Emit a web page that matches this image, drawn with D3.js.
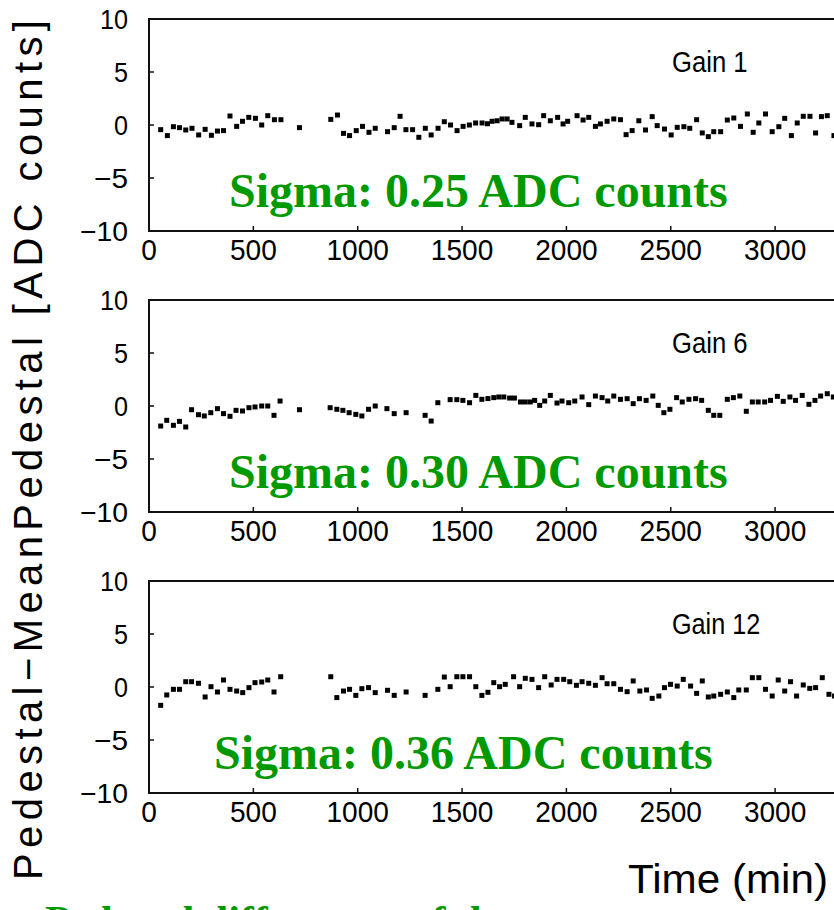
<!DOCTYPE html>
<html>
<head>
<meta charset="utf-8">
<script src="https://cdn.jsdelivr.net/npm/d3@7"></script>
<style>
  body { margin: 0; background: #fff; }
  svg { display: block; font-family: "Liberation Sans", Arial, sans-serif; }
  .serif { font-family: "Liberation Serif", "Times New Roman", serif; font-weight: bold; }
</style>
</head>
<body>
<div id="chart"></div>
<script>
// pedestal stability vs time for three gains

const gainLabels = ["Gain 1", "Gain 6", "Gain 12"];
const sigmaLabels = ["Sigma: 0.25 ADC counts", "Sigma: 0.30 ADC counts", "Sigma: 0.36 ADC counts"];
const xTicks = [0, 500, 1000, 1500, 2000, 2500, 3000];
const yTicks = [-10, -5, 0, 5, 10];

const gain1Time = [56, 88, 117, 146, 176, 206, 238, 269, 299, 328, 357, 388, 420, 448, 478, 510, 540, 569, 601, 632,
  721, 871, 903, 932, 961, 993, 1023, 1054, 1084, 1143, 1175, 1203, 1231, 1263, 1293, 1324, 1352, 1385, 1415, 1445,
  1476, 1505, 1535, 1565, 1596, 1622, 1644, 1668, 1692, 1716, 1739, 1776, 1803, 1835, 1867, 1891, 1923, 1958, 1984,
  2006, 2051, 2080, 2107, 2139, 2163, 2195, 2227, 2259, 2286, 2315, 2347, 2379, 2411, 2435, 2470, 2502, 2531, 2563,
  2591, 2624, 2651, 2680, 2706, 2739, 2771, 2802, 2834, 2867, 2895, 2922, 2954, 2986, 3018, 3046, 3078, 3106, 3135,
  3167, 3194, 3222, 3250, 3282];
const gain1Value = [-0.44, -1.0, -0.16, -0.25, -0.47, -0.31, -0.94, -0.41, -0.97, -0.57, -0.53, 0.85, -0.13, 0.35, 0.72,
  0.63, 0.0, 0.88, 0.5, 0.5, -0.25, 0.53, 0.94, -0.79, -1.0, -0.53, -0.13, -0.69, -0.31, -0.63, -0.25, 0.82, -0.44,
  -0.44, -1.16, -0.31, -0.94, -0.31, 0.31, 0.0, -0.53, -0.13, 0.0, 0.19, 0.19, 0.12, 0.35, 0.4, 0.57, 0.57, 0.25, -0.06,
  0.72, 0.1, 0.03, 0.88, 0.4, 0.72, 0.1, 0.35, 0.88, 0.47, 0.72, -0.13, 0.1, 0.35, 0.57, 0.5, -0.91, -0.53, 0.4, -0.47,
  0.79, -0.06, -0.38, -0.94, -0.22, -0.16, -0.31, 0.5, -0.75, -1.1, -0.63, -0.63, 0.47, 0.66, -0.13, 1.04, -0.69, 0.19,
  1.04, -0.63, -0.16, 0.63, -1.0, 0.19, 0.82, 0.82, -0.75, 0.79, 0.88, -1.0];

const gain6Time = [56, 85, 117, 146, 176, 204, 237, 265, 296, 328, 357, 388, 417, 448, 479, 508, 540, 569, 599, 628,
  721, 868, 900, 929, 959, 991, 1020, 1052, 1084, 1140, 1175, 1232, 1323, 1352, 1384, 1443, 1475, 1504, 1536, 1566,
  1595, 1624, 1652, 1676, 1700, 1728, 1751, 1780, 1803, 1827, 1848, 1872, 1896, 1923, 1955, 1979, 2011, 2040, 2075,
  2107, 2139, 2171, 2198, 2227, 2259, 2291, 2320, 2350, 2382, 2414, 2440, 2467, 2496, 2528, 2555, 2587, 2619, 2648,
  2680, 2706, 2735, 2771, 2800, 2831, 2862, 2891, 2919, 2950, 2978, 3011, 3039, 3071, 3098, 3130, 3162, 3191, 3218,
  3250, 3279];
const gain6Value = [-1.89, -1.35, -1.82, -1.45, -1.98, -0.35, -0.82, -0.94, -0.63, -0.25, -0.72, -0.97, -0.41, -0.47,
  -0.16, -0.09, 0.0, 0.0, -0.88, 0.47, -0.35, -0.16, -0.31, -0.41, -0.63, -0.79, -0.94, -0.31, 0.0, -0.25, -0.72, -0.63,
  -0.88, -1.42, 0.31, 0.6, 0.6, 0.53, 0.31, 1.0, 0.63, 0.7, 0.79, 0.85, 0.85, 0.75, 0.75, 0.38, 0.38, 0.38, 0.53, 0.06,
  0.47, 1.0, 0.28, 0.47, 0.31, 0.47, 0.85, 0.13, 0.94, 0.79, 0.47, 0.94, 0.63, 0.69, 0.22, 0.69, 0.53, 0.94, 0.06,
  -0.63, -0.31, 0.79, 0.38, 0.63, 0.69, 0.53, -0.41, -0.88, -0.88, 0.63, 0.79, 0.94, -0.5, 0.38, 0.38, 0.38, 0.53,
  0.91, 0.44, 0.85, 0.53, 1.0, 0.16, 0.53, 0.94, 1.16, 0.85];

const gain12Time = [56, 85, 117, 146, 176, 204, 237, 269, 297, 328, 357, 388, 420, 449, 479, 508, 540, 569, 599, 631,
  871, 900, 932, 961, 991, 1020, 1052, 1084, 1143, 1175, 1232, 1323, 1384, 1415, 1443, 1475, 1504, 1536, 1566, 1595,
  1624, 1652, 1680, 1707, 1747, 1776, 1803, 1835, 1867, 1896, 1927, 1955, 1987, 2016, 2048, 2075, 2107, 2139, 2171,
  2195, 2227, 2259, 2291, 2320, 2352, 2384, 2411, 2443, 2470, 2499, 2531, 2560, 2595, 2624, 2651, 2680, 2706, 2739,
  2771, 2802, 2826, 2862, 2891, 2922, 2954, 2986, 3015, 3046, 3074, 3103, 3135, 3166, 3194, 3226, 3258, 3285];
const gain12Value = [-1.73, -0.75, -0.22, -0.22, 0.5, 0.5, 0.35, -0.94, 0.03, -0.47, 0.66, -0.22, -0.38, -0.53, -0.06,
  0.41, 0.47, 0.66, -0.47, 0.97, 0.97, -1.0, -0.38, -0.22, -0.79, -0.16, -0.06, -0.53, -0.31, -0.79, -0.47, -0.79,
  -0.22, 0.94, 0.03, 0.97, 0.97, 0.97, 0.03, -0.79, -0.5, 0.41, 0.03, 0.25, 0.97, 0.03, 0.82, 0.72, -0.06, 0.97, 0.19,
  0.72, 0.72, 0.5, 0.16, 0.5, 0.35, 0.16, 0.88, 0.31, 0.31, -0.22, -0.44, 0.57, -0.38, -0.28, -1.07, -0.85, -0.06, 0.25,
  0.09, 0.72, 0.09, -0.6, 0.57, -0.94, -0.85, -0.69, -0.47, -1.0, -0.28, -0.28, 0.88, 0.88, -0.22, -0.85, 0.66, -0.38,
  0.5, -0.85, 0.19, -0.13, -0.06, 0.88, -0.69, -0.85];

const series = [
  { time: gain1Time, value: gain1Value },
  { time: gain6Time, value: gain6Value },
  { time: gain12Time, value: gain12Value }
];

const width = 834, height = 910;
const panelTops = [19, 300, 581];
const panelH = 212;
const green = "#009900";

const svg = d3.select("#chart").append("svg")
  .attr("width", width)
  .attr("height", height);

// x runs off the right side of the picture, like the original slide
const x = d3.scaleLinear().domain([0, 4000]).range([149, 149 + 4000 * 0.2087]);

series.forEach((s, i) => {
  const top = panelTops[i];
  const y = d3.scaleLinear().domain([-10, 10]).range([top + panelH, top]);
  const g = svg.append("g");

  // frame
  g.append("rect")
    .attr("x", x(0)).attr("y", top)
    .attr("width", x(4000) - x(0)).attr("height", panelH)
    .attr("fill", "none").attr("stroke", "#111").attr("stroke-width", 2);

  // ticks inward
  g.selectAll(".yt").data(yTicks).join("line")
    .attr("x1", x(0)).attr("x2", x(0) + 5)
    .attr("y1", d => y(d)).attr("y2", d => y(d))
    .attr("stroke", "#111").attr("stroke-width", 1.5);
  g.selectAll(".xt").data(xTicks.slice(1)).join("line")
    .attr("x1", d => x(d)).attr("x2", d => x(d))
    .attr("y1", y(-10)).attr("y2", y(-10) - 5)
    .attr("stroke", "#111").attr("stroke-width", 1.5);

  // tick labels
  const fmt = d3.format("d");
  g.selectAll(".yl").data(yTicks).join("text")
    .attr("x", 128).attr("y", d => y(d) + 10)
    .attr("text-anchor", "end")
    .attr("font-size", 28)
    .attr("textLength", d => (d < 0 ? 20 : 0) + String(Math.abs(d)).length * 14)
    .attr("lengthAdjust", "spacingAndGlyphs")
    .text(d => fmt(d));
  g.selectAll(".xl").data(xTicks).join("text")
    .attr("x", d => x(d)).attr("y", y(-10) + 29)
    .attr("text-anchor", "middle")
    .attr("font-size", 30)
    .attr("textLength", d => String(d).length * 15.6)
    .attr("lengthAdjust", "spacingAndGlyphs")
    .text(d => d);

  // points
  const pts = s.time.map((t, k) => ({ t, v: s.value[k] }));
  g.selectAll(".pt").data(pts).join("rect")
    .attr("x", d => x(d.t) - 2.5).attr("y", d => y(d.v) - 2.5)
    .attr("width", 5).attr("height", 5)
    .attr("fill", "#000");

  // gain label
  g.append("text")
    .attr("x", 672).attr("y", top + 53)
    .attr("font-size", 30)
    .attr("textLength", gainLabels[i].length * 12.6)
    .attr("lengthAdjust", "spacingAndGlyphs")
    .text(gainLabels[i]);

  // sigma label
  g.append("text")
    .attr("class", "serif")
    .attr("x", i === 2 ? 214 : 229).attr("y", top + 188)
    .attr("font-size", 48)
    .attr("fill", green)
    .text(sigmaLabels[i]);
});

// axis titles
svg.append("text")
  .attr("transform", "translate(42,880) rotate(-90)")
  .attr("font-size", 40)
  .attr("textLength", 860)
  .attr("lengthAdjust", "spacing")
  .text("Pedestal\u2212MeanPedestal [ADC counts]");

svg.append("text")
  .attr("x", 828).attr("y", 893)
  .attr("text-anchor", "end")
  .attr("font-size", 40)
  .attr("textLength", 200)
  .attr("lengthAdjust", "spacingAndGlyphs")
  .text("Time (min)");

// slide text cut off at the bottom edge
svg.append("text")
  .attr("class", "serif")
  .attr("x", 45).attr("y", 935)
  .attr("font-size", 42)
  .attr("fill", green)
  .text("Pedestal differences of the");
</script>
</body>
</html>
